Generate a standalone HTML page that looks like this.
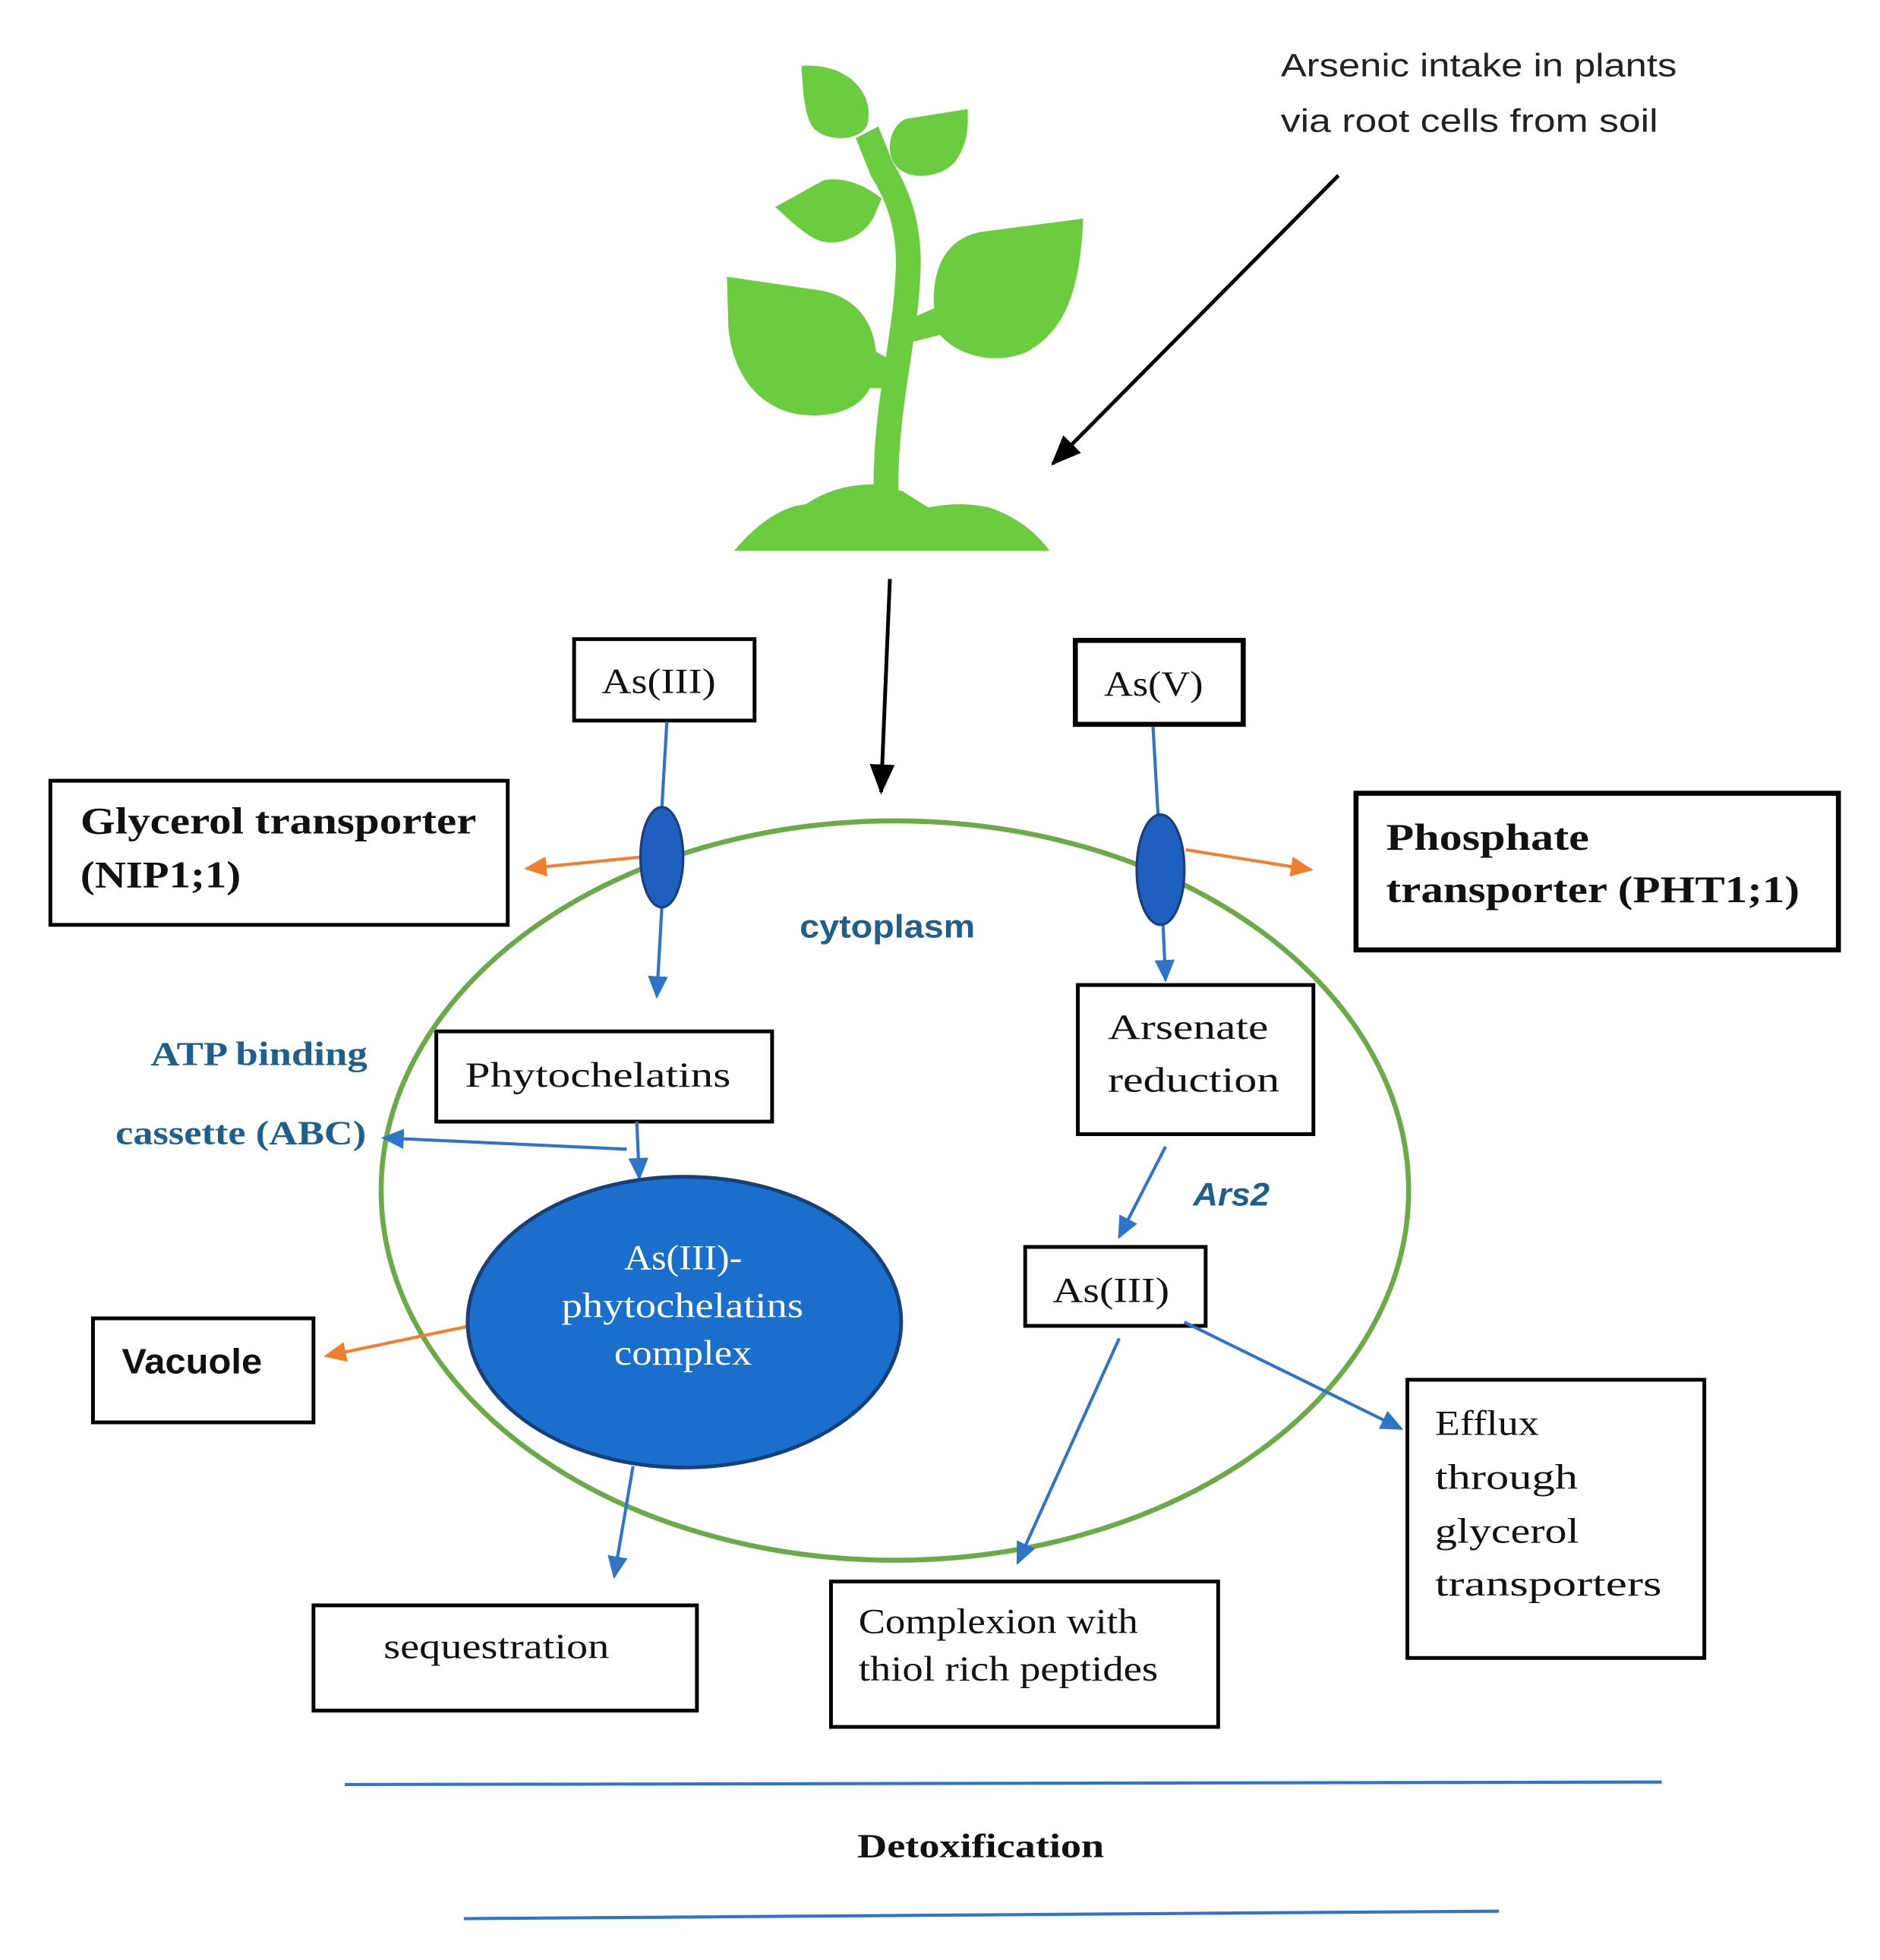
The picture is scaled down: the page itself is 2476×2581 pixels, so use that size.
<!DOCTYPE html>
<html><head><meta charset="utf-8"><style>
html,body{margin:0;padding:0;background:#fff;}
svg{display:block;}
.s{font-family:"Liberation Serif",serif;}
.a{font-family:"Liberation Sans",sans-serif;}
</style></head><body>
<svg width="2476" height="2581" viewBox="0 0 1500 1564" xmlns="http://www.w3.org/2000/svg">
<defs>
<marker id="kB" markerWidth="24" markerHeight="20" refX="22" refY="10" orient="auto" markerUnits="userSpaceOnUse"><path d="M0,0 L24,10 L0,20 z" fill="#000"/></marker>
<marker id="bl" markerWidth="18" markerHeight="16" refX="16" refY="8" orient="auto" markerUnits="userSpaceOnUse"><path d="M0,0 L18,8 L0,16 z" fill="#2e75c8"/></marker>
<marker id="or" markerWidth="18" markerHeight="16" refX="16" refY="8" orient="auto" markerUnits="userSpaceOnUse"><path d="M0,0 L18,8 L0,16 z" fill="#f08030"/></marker>
</defs>
<rect width="1500" height="1564" fill="#fff"/>
<g transform="translate(545,34) scale(0.233,0.265)" fill="#6bcc3f">
<path d="M175,1530 Q300,1400 420,1390 Q520,1330 650,1330 L750,1350 L840,1400 Q950,1380 1050,1400 Q1180,1440 1255,1530 Z"/>
<path d="M695,1360 C690,1100 760,900 770,700 C780,550 730,450 680,380 L630,270" fill="none" stroke="#6bcc3f" stroke-width="85"/>
<path d="M405,70 C560,60 660,150 630,250 C600,300 480,300 440,250 C410,200 410,120 405,70 Z"/>
<path d="M975,200 L760,230 C700,260 700,330 720,360 C760,420 880,410 930,360 C980,300 975,250 975,200 Z"/>
<path d="M315,495 L480,415 C560,400 640,440 680,470 L650,530 C610,590 520,620 450,590 C390,560 350,520 315,495 Z"/>
<path d="M1370,530 L1020,570 C900,590 850,680 860,800 L780,830 L790,900 L880,880 C950,950 1080,970 1180,930 C1300,870 1360,760 1370,530 Z"/>
<path d="M150,705 L460,745 C580,760 650,830 660,930 L720,960 L700,1040 L640,1040 C600,1110 500,1130 400,1120 C250,1100 170,990 155,860 Z"/>
</g>
<g lengthAdjust="spacingAndGlyphs">
<text class="a" x="1022" y="61" font-size="26" fill="#222" textLength="316" lengthAdjust="spacingAndGlyphs">Arsenic intake in plants</text>
<text class="a" x="1022" y="105" font-size="26" fill="#222" textLength="301" lengthAdjust="spacingAndGlyphs">via root cells from soil</text>
</g>
<line x1="1068" y1="140" x2="840" y2="370" stroke="#000" stroke-width="3" marker-end="url(#kB)"/>
<line x1="710" y1="462" x2="703" y2="632" stroke="#000" stroke-width="3" marker-end="url(#kB)"/>
<g fill="none" stroke="#000" stroke-width="3">
<rect x="458" y="510" width="144" height="65"/>
<rect x="858" y="511" width="134" height="67" stroke-width="4"/>
<rect x="40" y="623" width="365" height="115"/>
<rect x="1082" y="633" width="385" height="125" stroke-width="4"/>
<rect x="348" y="823" width="268" height="72"/>
<rect x="74" y="1052" width="176" height="83"/>
<rect x="250" y="1281" width="306" height="84"/>
<rect x="860" y="786" width="188" height="119"/>
<rect x="818" y="995" width="144" height="63"/>
<rect x="663" y="1262" width="309" height="116"/>
<rect x="1123" y="1101" width="237" height="222"/>
</g>
<ellipse cx="714" cy="950" rx="410" ry="295" fill="none" stroke="#6aaa48" stroke-width="4"/>
<g stroke="#2e75c8" stroke-width="2.5" fill="none">
<line x1="532" y1="576" x2="528" y2="645"/>
<line x1="528" y1="724" x2="524" y2="795" marker-end="url(#bl)"/>
<line x1="920" y1="580" x2="924" y2="650"/>
<line x1="928" y1="738" x2="930" y2="782" marker-end="url(#bl)"/>
<line x1="500" y1="917" x2="306" y2="908" marker-end="url(#bl)"/>
<line x1="508" y1="895" x2="510" y2="940" marker-end="url(#bl)"/>
<line x1="505" y1="1170" x2="490" y2="1258" marker-end="url(#bl)"/>
<line x1="930" y1="915" x2="893" y2="987" marker-end="url(#bl)"/>
<line x1="893" y1="1068" x2="812" y2="1247" marker-end="url(#bl)"/>
<line x1="945" y1="1055" x2="1118" y2="1140" marker-end="url(#bl)"/>
<line x1="275" y1="1424" x2="1326" y2="1422"/>
<line x1="370" y1="1531" x2="1196" y2="1525"/>
</g>
<g stroke="#f08030" stroke-width="2.5">
<line x1="510" y1="684" x2="420" y2="693" marker-end="url(#or)"/>
<line x1="946" y1="678" x2="1046" y2="694" marker-end="url(#or)"/>
<line x1="375" y1="1058" x2="260" y2="1082" marker-end="url(#or)"/>
</g>
<ellipse cx="528" cy="684" rx="17" ry="40" fill="#1f5fbf" stroke="#1a3f80" stroke-width="2"/>
<ellipse cx="926" cy="694" rx="19" ry="44" fill="#1f5fbf" stroke="#1a3f80" stroke-width="2"/>
<ellipse cx="546" cy="1055" rx="173" ry="116" fill="#1a6ecc" stroke="#17407a" stroke-width="3"/>
<g class="s" font-size="28" fill="#111">
<text x="480" y="553" textLength="91" lengthAdjust="spacingAndGlyphs">As(III)</text>
<text x="881" y="555" textLength="79" lengthAdjust="spacingAndGlyphs">As(V)</text>
<text x="64" y="665" font-weight="bold" font-size="30" textLength="316" lengthAdjust="spacingAndGlyphs">Glycerol transporter</text>
<text x="64" y="708" font-weight="bold" font-size="30" textLength="128" lengthAdjust="spacingAndGlyphs">(NIP1;1)</text>
<text x="1106" y="678" font-weight="bold" font-size="30" textLength="162" lengthAdjust="spacingAndGlyphs">Phosphate</text>
<text x="1106" y="720" font-weight="bold" font-size="30" textLength="330" lengthAdjust="spacingAndGlyphs">transporter (PHT1;1)</text>
<text x="371" y="867" textLength="212" lengthAdjust="spacingAndGlyphs">Phytochelatins</text>
<text x="884" y="829" textLength="128" lengthAdjust="spacingAndGlyphs">Arsenate</text>
<text x="884" y="871" textLength="137" lengthAdjust="spacingAndGlyphs">reduction</text>
<text x="840" y="1039" textLength="93" lengthAdjust="spacingAndGlyphs">As(III)</text>
<text x="306" y="1323" textLength="180" lengthAdjust="spacingAndGlyphs">sequestration</text>
<text x="685" y="1303" textLength="223" lengthAdjust="spacingAndGlyphs">Complexion with</text>
<text x="685" y="1341" textLength="239" lengthAdjust="spacingAndGlyphs">thiol rich peptides</text>
<text x="1145" y="1145" textLength="83" lengthAdjust="spacingAndGlyphs">Efflux</text>
<text x="1145" y="1188" textLength="114" lengthAdjust="spacingAndGlyphs">through</text>
<text x="1145" y="1231" textLength="115" lengthAdjust="spacingAndGlyphs">glycerol</text>
<text x="1145" y="1273" textLength="181" lengthAdjust="spacingAndGlyphs">transporters</text>
<text x="684" y="1482" font-weight="bold" font-size="27" textLength="197" lengthAdjust="spacingAndGlyphs">Detoxification</text>
<g fill="#fff">
<text x="498" y="1013" textLength="94" lengthAdjust="spacingAndGlyphs">As(III)-</text>
<text x="448" y="1051" textLength="193" lengthAdjust="spacingAndGlyphs">phytochelatins</text>
<text x="490" y="1089" textLength="110" lengthAdjust="spacingAndGlyphs">complex</text>
</g>
<text x="120" y="850" font-weight="bold" font-size="27" fill="#1f5f8b" textLength="173" lengthAdjust="spacingAndGlyphs">ATP binding</text>
<text x="92" y="913" font-weight="bold" font-size="27" fill="#1f5f8b" textLength="200" lengthAdjust="spacingAndGlyphs">cassette (ABC)</text>
</g>
<text class="a" x="638" y="748" font-weight="bold" font-size="26" fill="#1f5f8b" textLength="140" lengthAdjust="spacingAndGlyphs">cytoplasm</text>
<text class="a" x="952" y="962" font-weight="bold" font-style="italic" font-size="26" fill="#1f5f8b" textLength="61" lengthAdjust="spacingAndGlyphs">Ars2</text>
<text class="a" x="97" y="1096" font-weight="bold" font-size="28" fill="#111" textLength="112" lengthAdjust="spacingAndGlyphs">Vacuole</text>
</svg>
</body></html>
